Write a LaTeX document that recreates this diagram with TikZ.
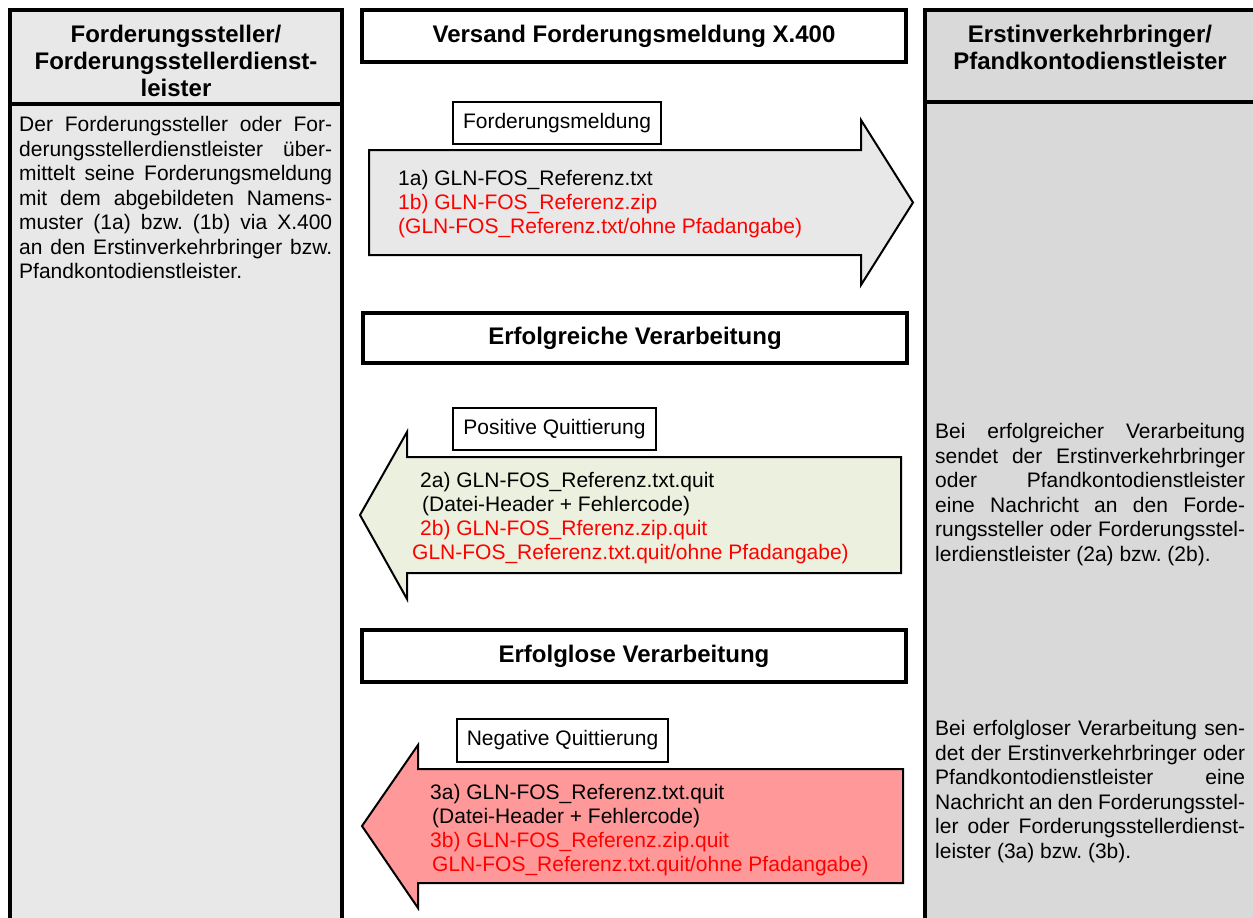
\documentclass[tikz,border=0pt]{standalone}
\usepackage{fontspec}
\setmainfont{Liberation Sans}
\frenchspacing
\definecolor{colL}{HTML}{E8E8E8}
\definecolor{colR}{HTML}{D9D9D9}
\definecolor{arrGray}{HTML}{E8E8E8}
\definecolor{arrGreen}{HTML}{EBF1DE}
\definecolor{arrRed}{HTML}{FF9999}
\newcommand{\jl}[2]{\makebox[#1][s]{#2}}
\begin{document}
\begin{tikzpicture}[x=1pt,y=-1pt,
  colframe/.style={draw=black, line width=4pt},
  titlebox/.style={draw=black, line width=3.5pt, fill=white, inner sep=0pt,
    font=\fontsize{24}{27}\selectfont\bfseries, minimum width=544pt},
  lblbox/.style={draw=black, line width=1.5pt, fill=white, inner sep=0pt,
    font=\fontsize{21}{24.5}\selectfont},
  arrowshape/.style={draw=black, line width=2pt, line join=miter},
  bodytext/.style={font=\fontsize{21}{24.5}\selectfont\frenchspacing, inner sep=0pt, anchor=base west, align=left},
  arrtext/.style={font=\fontsize{21}{24}\selectfont, inner sep=0pt, anchor=base west, align=left},
  hdr/.style={font=\fontsize{24}{27}\selectfont\bfseries, inner sep=0pt, anchor=base, align=center, text width=320pt}
]
\useasboundingbox (0,0) rectangle (1253,918);
\clip (0,0) rectangle (1253,918);
\fill[white] (0,0) rectangle (1253,918);

% columns
\draw[colframe, fill=colL] (10,10) rectangle (342,930);
\draw[colframe] (10,104) -- (342,104);
\draw[colframe, fill=colR] (925,10) rectangle (1258,930);
\draw[colframe] (925,102) -- (1258,102);

% headers (anchored at baseline of first line)
\node[hdr] (lhead) at (176,42) {Forderungssteller/\\Forderungsstellerdienst-\\leister};
\node[hdr] (rhead) at (1090,42) {Erstinverkehrbringer/\\Pfandkontodienstleister};

% left body
\node[bodytext] (ltext) at (19,278.5) {%
\jl{313pt}{Der Forderungssteller oder For-}\\
\jl{313pt}{derungsstellerdienstleister \ über-}\\
\jl{313pt}{mittelt seine Forderungsmeldung}\\
\jl{313pt}{mit dem abgebildeten Namens-}\\
\jl{313pt}{muster (1a) bzw. (1b) via X.400}\\
\jl{313pt}{an den Erstinverkehrbringer bzw.}\\
Pfandkontodienstleister.};

% right body texts
\node[bodytext] (rtext1) at (935,561) {%
\jl{310pt}{Bei erfolgreicher Verarbeitung}\\
\jl{310pt}{sendet der Erstinverkehrbringer}\\
\jl{310pt}{oder Pfandkontodienstleister}\\
\jl{310pt}{eine Nachricht an den Forde-}\\
\jl{310pt}{rungssteller oder Forderungsstel-}\\
lerdienstleister (2a) bzw. (2b).};

\node[bodytext] (rtext2) at (935,858) {%
\jl{310pt}{Bei erfolgloser Verarbeitung sen-}\\
\jl{310pt}{det der Erstinverkehrbringer oder}\\
\jl{310pt}{Pfandkontodienstleister eine}\\
\jl{310pt}{Nachricht an den Forderungsstel-}\\
\jl{310pt}{ler oder Forderungsstellerdienst-}\\
leister (3a) bzw. (3b).};

% title boxes
\node[titlebox, minimum height=52pt] (t1) at (634,36) {Versand Forderungsmeldung X.400};
\node[titlebox, minimum height=50pt] (t2) at (635,338) {Erfolgreiche Verarbeitung};
\node[titlebox, minimum height=52pt] (t3) at (634,656) {Erfolglose Verarbeitung};

% arrow 1 (right)
\draw[arrowshape, fill=arrGray] (369,150) -- (861,150) -- (861,120) -- (913,202.5)
  -- (861,285) -- (861,255) -- (369,255) -- cycle;
\node[lblbox, minimum width=208pt, minimum height=42pt] (l1) at (557,123) {Forderungsmeldung};
\node[arrtext] (a1) at (398,233) {1a) GLN-FOS\_Referenz.txt\\
\textcolor{red}{1b) GLN-FOS\_Referenz.zip}\\
\textcolor{red}{(GLN-FOS\_Referenz.txt/ohne Pfadangabe)}};

% arrow 2 (left, green)
\draw[arrowshape, fill=arrGreen] (901,457) -- (407,457) -- (407,432) -- (360,515)
  -- (407,599) -- (407,573) -- (901,573) -- cycle;
\node[lblbox, minimum width=203pt, minimum height=42pt] (l2) at (554.5,429) {Positive Quittierung};
\node[arrtext] (a2) at (420,559) {2a) GLN-FOS\_Referenz.txt.quit\\
\hspace*{2pt}(Datei-Header + Fehlercode)\\
\textcolor{red}{2b) GLN-FOS\_Rferenz.zip.quit}\\
\hspace*{-8pt}\textcolor{red}{GLN-FOS\_Referenz.txt.quit/ohne Pfadangabe)}};

% arrow 3 (left, red)
\draw[arrowshape, fill=arrRed] (903,769) -- (418,769) -- (418,745) -- (362,826)
  -- (418,908) -- (418,883) -- (903,883) -- cycle;
\node[lblbox, minimum width=211pt, minimum height=43pt] (l3) at (562.5,740.5) {Negative Quittierung};
\node[arrtext] (a3) at (430,871) {3a) GLN-FOS\_Referenz.txt.quit\\
\hspace*{2pt}(Datei-Header + Fehlercode)\\
\textcolor{red}{3b) GLN-FOS\_Referenz.zip.quit}\\
\hspace*{2pt}\textcolor{red}{GLN-FOS\_Referenz.txt.quit/ohne Pfadangabe)}};
\end{tikzpicture}
\end{document}
